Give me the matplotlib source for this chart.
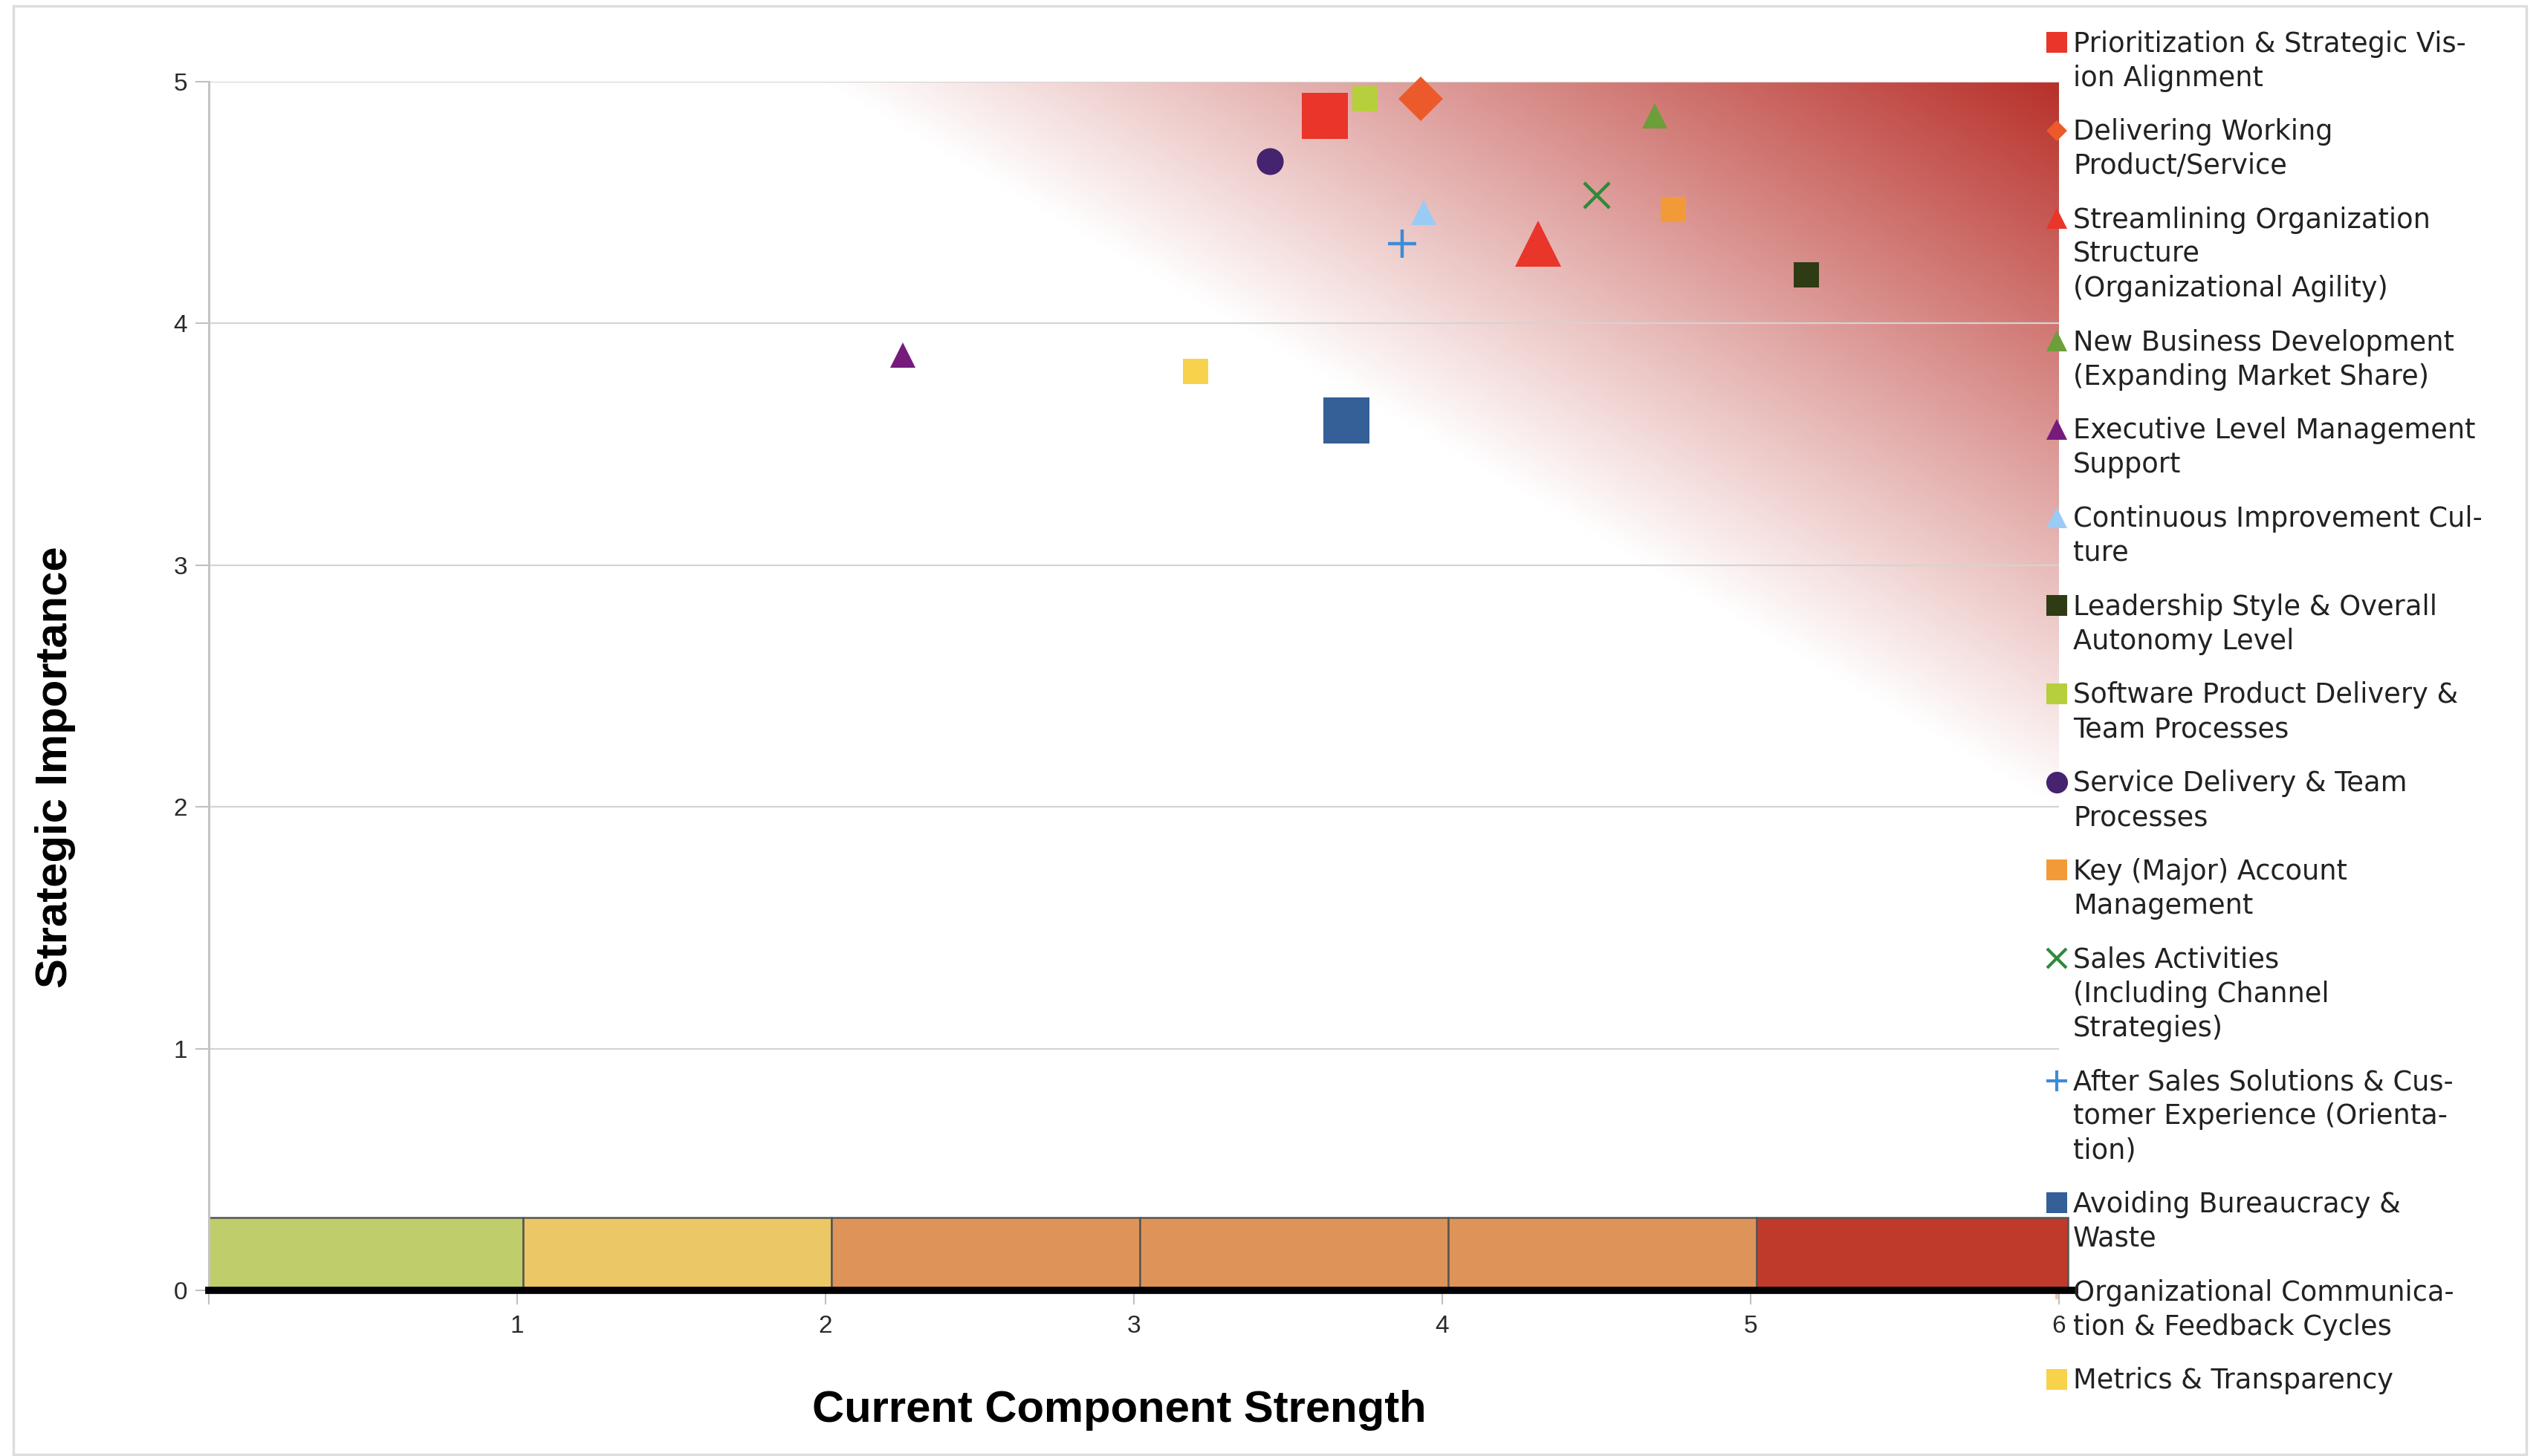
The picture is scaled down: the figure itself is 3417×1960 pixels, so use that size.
"""Strategic importance vs. current component strength scatter (matrix view)."""

import matplotlib

matplotlib.use("Agg", force=True)

import matplotlib.pyplot as plt  # noqa: E402
import numpy as np  # noqa: E402
from matplotlib.colors import to_rgb  # noqa: E402
from matplotlib.lines import Line2D  # noqa: E402
from matplotlib.patches import Rectangle  # noqa: E402

# ---------------------------------------------------------------- data
components = [
    "Prioritization & Strategic Vis-\nion Alignment",
    "Delivering Working\nProduct/Service",
    "Streamlining Organization\nStructure\n(Organizational Agility)",
    "New Business Development\n(Expanding Market Share)",
    "Executive Level Management\nSupport",
    "Continuous Improvement Cul-\nture",
    "Leadership Style & Overall\nAutonomy Level",
    "Software Product Delivery &\nTeam Processes",
    "Service Delivery & Team\nProcesses",
    "Key (Major) Account\nManagement",
    "Sales Activities\n(Including Channel\nStrategies)",
    "After Sales Solutions & Cus-\ntomer Experience (Orienta-\ntion)",
    "Avoiding Bureaucracy &\nWaste",
    "Organizational Communica-\ntion & Feedback Cycles",
    "Metrics & Transparency",
]
strength = [3.62, 3.93, 4.31, 4.69, 2.25, 3.94, 5.18, 3.75, 3.44, 4.75,
            4.50, 3.87, 3.69, np.nan, 3.20]
importance = [4.86, 4.93, 4.33, 4.86, 3.87, 4.46, 4.20, 4.93, 4.67, 4.47,
              4.53, 4.33, 3.60, np.nan, 3.80]

band_edges = [0, 1.02, 2.02, 3.02, 4.02, 5.02, 6.03]
band_height = 0.3
band_colors = ["#BFCE6A", "#ECC766", "#DE9458", "#DE9458", "#DE9458", "#BF3A2A"]

x_ticks = [0, 1, 2, 3, 4, 5, 6]
x_tick_labels = ["", "1", "2", "3", "4", "5", "6"]
y_ticks = [0, 1, 2, 3, 4, 5]

# ---------------------------------------------------------------- styles
colors = ["#E9352A", "#EC5A2C", "#E9352A", "#6C9E3A", "#741B7C", "#9ACBF5",
          "#2F3B13", "#B6CF3C", "#45236F", "#F39A38", "#2E8A3A", "#3D8BD6",
          "#345F97", "#F7C2B0", "#F8D24A"]
markers = ["s", "D", "^", "^", "^", "^", "s", "s", "o", "s", "x", "+", "s", "+", "s"]
plot_sizes = [44, 31, 44, 25, 25, 25, 25, 25, 26, 25, 25, 27, 44, 20, 25]
legend_sizes = [20, 14, 20, 20, 20, 20, 20, 20, 21, 20, 19, 20, 20, 16, 20]

W, H = 3417, 1960
AX_L, AX_R, AX_T, AX_B = 281, 2771, 110, 1737
GRAD_HI = "#B8302A"

fig = plt.figure(figsize=(W / 100, H / 100), dpi=100)
fig.patch.set_facecolor("white")
ax = fig.add_axes([AX_L / W, (H - AX_B) / H, (AX_R - AX_L) / W, (AX_B - AX_T) / H])
ax.patch.set_visible(False)

ax.set_xlim(0, 6)
ax.set_ylim(0, 5)

# diagonal red gradient toward the high-strength / high-importance corner
gx, gy = np.meshgrid(np.linspace(0, 6, 600), np.linspace(0, 5, 500))
t = np.clip((gx - 2) / 4 + (gy - 5) / 3, 0, 1)[..., None]
img = (1 - t) + t * np.array(to_rgb(GRAD_HI))
ax.imshow(img, extent=(0, 6, 0, 5), origin="lower", aspect="auto",
          interpolation="bilinear", zorder=0)

ax.set_axisbelow(True)
ax.yaxis.grid(True, color="#D4D4D4", linewidth=1.6)
ax.xaxis.grid(False)

# rating band along the bottom
ax.bar(band_edges[:-1], band_height, width=np.diff(band_edges), align="edge",
       color=band_colors, edgecolor="#555555", linewidth=1.8, zorder=2,
       clip_on=False)

for i in range(len(components)):
    is_line = markers[i] in ("x", "+")
    ax.plot(strength[i], importance[i], linestyle="none", marker=markers[i],
            markersize=plot_sizes[i], color=colors[i],
            markeredgewidth=3.2 if is_line else 0, zorder=4, clip_on=False)

for side in ("top", "right"):
    ax.spines[side].set_visible(False)
ax.spines["left"].set(color="#C4C4C4", linewidth=2.2)
ax.spines["bottom"].set(color="black", linewidth=7, zorder=3)
ax.spines["bottom"].set_bounds(0, 6.05)

ax.set_xticks(x_ticks)
ax.set_xticklabels(x_tick_labels)
ax.set_yticks(y_ticks)
ax.tick_params(axis="x", length=14, width=1.5, color="#C0C0C0", pad=10,
               labelsize=24, labelcolor="#2A2A2A")
ax.tick_params(axis="y", length=13, width=1.5, color="#C0C0C0", pad=8,
               labelsize=24, labelcolor="#2A2A2A")
for lab in ax.get_xticklabels() + ax.get_yticklabels():
    lab.set_family("Liberation Sans")

ax.set_xlabel("Current Component Strength", fontsize=43, fontweight="bold",
              family="Liberation Sans", va="center")
ax.xaxis.set_label_coords(0.492, -0.099)
ax.set_ylabel("Strategic Importance", fontsize=43, fontweight="bold",
              family="Liberation Sans", va="center", ha="center")
ax.yaxis.set_label_coords(-0.083, 0.433)

# hand-laid legend column (markers on the first line of each label)
y = 57
for i, label in enumerate(components):
    is_line = markers[i] in ("x", "+")
    fig.add_artist(Line2D([2768 / W], [1 - y / H], transform=fig.transFigure,
                          linestyle="none", marker=markers[i],
                          markersize=legend_sizes[i], color=colors[i],
                          markeredgewidth=3 if is_line else 0,
                          zorder=-1 if np.isnan(strength[i]) else 5))
    lines = label.split("\n")
    for k, line in enumerate(lines):
        fig.text(2790 / W, 1 - (y + 12.5 + k * 46) / H, line, ha="left",
                 va="baseline", fontsize=26.5, family="DejaVu Sans",
                 color="#222222")
    y += len(lines) * 46 + 26.7

# thin outer frame
fig.add_artist(Rectangle((18 / W, 1 - 1958 / H), (3400 - 18) / W, (1958 - 8) / H,
                         transform=fig.transFigure, fill=False,
                         edgecolor="#DDDDDD", linewidth=2.5))

fig.savefig("out.png", dpi=100)
plt.close(fig)
